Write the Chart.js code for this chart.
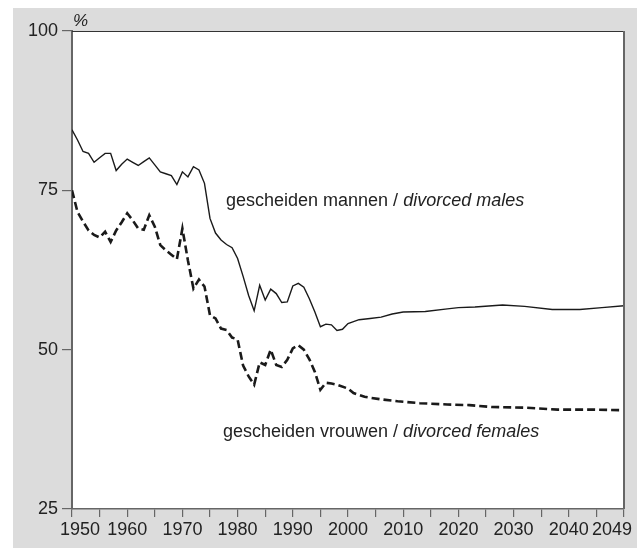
<!DOCTYPE html>
<html>
<head>
<meta charset="utf-8">
<script src="https://cdn.jsdelivr.net/npm/chart.js@4.4.1/dist/chart.umd.min.js"></script>
<style>
html, body { margin: 0; padding: 0; background: #fff; }
canvas { display: block; }
</style>
</head>
<body>
<canvas id="grafiek" width="637" height="548"></canvas>
<script>
// gescheiden mannen / divorced males (%)
var jarenMannen = [1950, 1951, 1952, 1953, 1954, 1955, 1956, 1957, 1958, 1959,
    1960, 1961, 1962, 1963, 1964, 1965, 1966, 1967, 1968, 1969,
    1970, 1971, 1972, 1973, 1974, 1975, 1976, 1977, 1978, 1979,
    1980, 1981, 1982, 1983, 1984, 1985, 1986, 1987, 1988, 1989,
    1990, 1991, 1992, 1993, 1994, 1995, 1996, 1997, 1998, 1999,
    2000, 2001, 2002, 2004, 2006, 2008, 2010, 2014, 2018, 2020,
    2023, 2028, 2032, 2037, 2042, 2046, 2050];
var mannen = [84.5, 82.9, 81.1, 80.8, 79.4, 80.1, 80.8, 80.8, 78.1, 79.1,
    79.9, 79.4, 78.9, 79.5, 80.1, 79.0, 77.9, 77.6, 77.3, 75.9,
    77.9, 77.1, 78.7, 78.2, 76.1, 70.6, 68.3, 67.2, 66.5, 66.0,
    64.3, 61.5, 58.5, 56.1, 60.1, 57.8, 59.5, 58.8, 57.4, 57.5,
    60.0, 60.4, 59.8, 58.0, 55.9, 53.6, 54.0, 53.9, 53.0, 53.2,
    54.1, 54.4, 54.7, 54.9, 55.1, 55.6, 55.9, 56.0, 56.4, 56.6,
    56.7, 57.0, 56.8, 56.3, 56.3, 56.6, 56.9];

// gescheiden vrouwen / divorced females (%)
var jarenVrouwen = [1950, 1951, 1952, 1953, 1954, 1955, 1956, 1957, 1958, 1959,
    1960, 1961, 1962, 1963, 1964, 1965, 1966, 1967, 1968, 1969,
    1970, 1971, 1972, 1973, 1974, 1975, 1976, 1977, 1978, 1979,
    1980, 1981, 1982, 1983, 1984, 1985, 1986, 1987, 1988, 1989,
    1990, 1991, 1992, 1993, 1994, 1995, 1996, 1997, 1998, 2000,
    2001, 2003, 2006, 2009, 2013, 2018, 2022, 2026, 2032, 2038,
    2044, 2050];
var vrouwen = [75.0, 71.6, 70.1, 68.7, 68.0, 67.6, 68.5, 66.9, 68.7, 70.0,
    71.4, 70.3, 69.0, 68.8, 71.1, 69.3, 66.4, 65.6, 64.9, 64.2,
    69.0, 64.0, 59.6, 61.0, 59.9, 55.4, 54.9, 53.3, 53.1, 51.9,
    51.6, 47.5, 45.8, 44.5, 48.0, 47.6, 50.0, 47.6, 47.3, 48.4,
    50.2, 50.7, 50.0, 48.5, 46.5, 43.7, 44.8, 44.7, 44.5, 43.9,
    43.2, 42.6, 42.2, 41.9, 41.6, 41.4, 41.3, 41.0, 40.9, 40.6,
    40.6, 40.5];

// as-labels
var xTickWaarden = [1950, 1960, 1970, 1980, 1990, 2000, 2010, 2020, 2030, 2040, 2050];
var xTickLabels = ['1950', '1960', '1970', '1980', '1990', '2000', '2010', '2020', '2030', '2040', '2049'];
var yTicks = [25, 50, 75, 100];

var labelMannen = ['gescheiden mannen / ', 'divorced males'];
var labelVrouwen = ['gescheiden vrouwen / ', 'divorced females'];

var FONT = '"Liberation Sans", Arial, Helvetica, sans-serif';

function punten(jaren, waarden) {
    return jaren.map(function (j, i) { return { x: j, y: waarden[i] }; });
}

// grijze achtergrond + wit plotvlak
var achtergrond = {
    id: 'achtergrond',
    beforeDraw: function (chart) {
        var ctx = chart.ctx, a = chart.chartArea;
        ctx.save();
        ctx.fillStyle = '#dcdcdc';
        ctx.fillRect(13, 8, chart.width - 13, chart.height - 8);
        ctx.fillStyle = '#ffffff';
        ctx.fillRect(a.left, a.top, a.right - a.left, a.bottom - a.top);
        ctx.restore();
    }
};

// rand, x-labels en teksten
var teksten = {
    id: 'teksten',
    afterDraw: function (chart) {
        var ctx = chart.ctx, a = chart.chartArea, xs = chart.scales.x;
        ctx.save();
        // boven- en rechterrand
        ctx.strokeStyle = '#333';
        ctx.lineWidth = 1;
        ctx.beginPath();
        ctx.moveTo(a.left, a.top + 0.5);
        ctx.lineTo(a.right, a.top + 0.5);
        ctx.stroke();
        ctx.strokeStyle = '#666';
        ctx.lineWidth = 2;
        ctx.beginPath();
        ctx.moveTo(a.right, a.top);
        ctx.lineTo(a.right, a.bottom);
        ctx.stroke();

        // x-as labels
        ctx.fillStyle = '#222';
        ctx.font = '18px ' + FONT;
        ctx.textBaseline = 'middle';
        xTickWaarden.forEach(function (w, i) {
            var px = xs.getPixelForValue(w);
            if (i === 0) { ctx.textAlign = 'left'; px -= 12; }
            else if (i === xTickWaarden.length - 1) { ctx.textAlign = 'right'; px += 8; }
            else { ctx.textAlign = 'center'; }
            ctx.fillText(xTickLabels[i], px, a.bottom + 21);
        });

        // procent-teken
        ctx.textAlign = 'left';
        ctx.textBaseline = 'alphabetic';
        ctx.font = 'italic 17px ' + FONT;
        ctx.fillText('%', a.left + 1, a.top - 5);

        // lijnlabels
        function label(delen, x, y) {
            ctx.font = '18px ' + FONT;
            ctx.fillText(delen[0], x, y);
            var w = ctx.measureText(delen[0]).width;
            ctx.font = 'italic 18px ' + FONT;
            ctx.fillText(delen[1], x + w, y);
        }
        label(labelMannen, a.left + 154, a.top + 175);
        label(labelVrouwen, a.left + 151, a.top + 406);
        ctx.restore();
    }
};

var ctx = document.getElementById('grafiek').getContext('2d');
var chart = new Chart(ctx, {
    type: 'line',
    data: {
        datasets: [{
            label: 'gescheiden mannen',
            data: punten(jarenMannen, mannen),
            borderColor: '#1a1a1a',
            borderWidth: 1.4,
            pointRadius: 0,
            tension: 0,
            fill: false
        }, {
            label: 'gescheiden vrouwen',
            data: punten(jarenVrouwen, vrouwen),
            borderColor: '#1a1a1a',
            borderWidth: 2.6,
            borderDash: [8, 4],
            pointRadius: 0,
            tension: 0,
            fill: false
        }]
    },
    options: {
        responsive: false,
        animation: false,
        layout: { padding: { top: 31, right: 13, left: 0, bottom: 0 } },
        plugins: {
            legend: { display: false },
            tooltip: { enabled: false }
        },
        scales: {
            x: {
                type: 'linear',
                min: 1950,
                max: 2050,
                afterBuildTicks: function (scale) {
                    var t = [];
                    for (var j = 1950; j <= 2050; j += 5) t.push({ value: j });
                    scale.ticks = t;
                },
                afterFit: function (scale) { scale.height = 39; },
                ticks: { display: false },
                grid: { drawOnChartArea: false, tickLength: 8, color: '#666', lineWidth: 1.2 },
                border: { display: true, color: '#666', width: 1.5 }
            },
            y: {
                min: 25,
                max: 100,
                afterBuildTicks: function (scale) {
                    scale.ticks = yTicks.map(function (v) { return { value: v }; });
                },
                afterFit: function (scale) { scale.width = 72; },
                ticks: {
                    color: '#222',
                    padding: 4,
                    font: { family: FONT, size: 18 }
                },
                grid: { drawOnChartArea: false, tickLength: 10, color: '#666', lineWidth: 1.2 },
                border: { display: true, color: '#666', width: 2 }
            }
        }
    },
    plugins: [achtergrond, teksten]
});
</script>
</body>
</html>
